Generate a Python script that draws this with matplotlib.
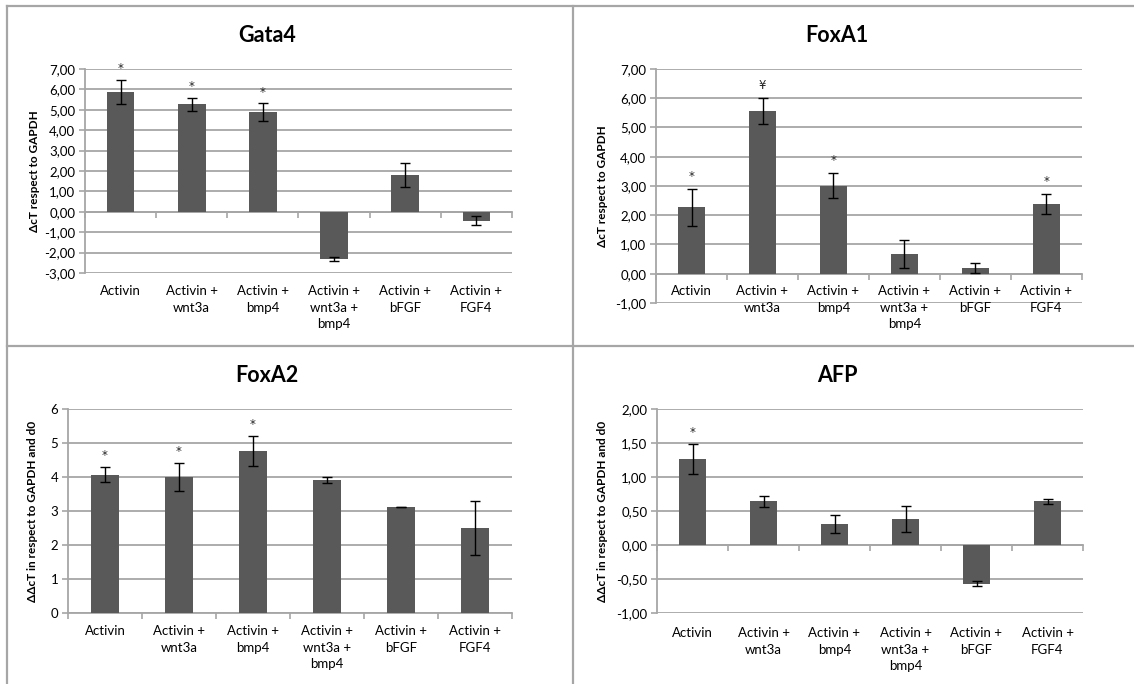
import matplotlib
matplotlib.use("Agg")
import matplotlib.pyplot as plt
import numpy as np
from matplotlib.lines import Line2D
from matplotlib.ticker import FuncFormatter, MultipleLocator
from matplotlib.transforms import blended_transform_factory

plt.rcParams['font.family'] = ['Lato', 'DejaVu Sans']

conditions = ['Activin', 'Activin +\nwnt3a', 'Activin +\nbmp4',
              'Activin +\nwnt3a +\nbmp4', 'Activin +\nbFGF', 'Activin +\nFGF4']

gata4_mean = [5.87, 5.26, 4.87, -2.31, 1.80, -0.43]
gata4_err = [0.60, 0.33, 0.44, 0.08, 0.58, 0.22]
gata4_marks = ['*', '*', '*', '', '', '']

foxa1_mean = [2.27, 5.56, 3.01, 0.69, 0.20, 2.38]
foxa1_err = [0.63, 0.45, 0.43, 0.48, 0.17, 0.33]
foxa1_marks = ['*', '¥', '*', '', '', '*']

foxa2_mean = [4.07, 4.01, 4.77, 3.91, 3.12, 2.50]
foxa2_err = [0.23, 0.41, 0.45, 0.09, 0.01, 0.78]
foxa2_marks = ['*', '*', '*', '', '', '']

afp_mean = [1.27, 0.64, 0.31, 0.38, -0.57, 0.64]
afp_err = [0.22, 0.08, 0.13, 0.19, 0.04, 0.03]
afp_marks = ['*', '', '', '', '', '']

W, H = 1134, 684
fig = plt.figure(figsize=(W / 100, H / 100), dpi=100)
fig.patch.set_facecolor('white')

GRID = '#a6a6a6'
BAR = '#595959'


def px_rect(l, t, r, b):
    return [l / W, 1 - b / H, (r - l) / W, (b - t) / H]


def comma2(v, pos):
    return f'{v:.2f}'.replace('.', ',')


def comma0(v, pos):
    return f'{v:.0f}'


def panel(rect, title, ylabel, means, errs, marks, ylim, step, fmt,
          title_xy, ylab_x, label_y):
    ax = fig.add_axes(px_rect(*rect))
    x = np.arange(len(means))
    ax.bar(x, means, width=0.39, color=BAR, zorder=3)
    ax.errorbar(x, means, yerr=errs, fmt='none', ecolor='black',
                elinewidth=1.0, capsize=3.5, capthick=1.0, zorder=4)

    # significance markers just above the error bar
    span = ylim[1] - ylim[0]
    for xi, m, e, mk in zip(x, means, errs, marks):
        if mk:
            top = max(m + e, 0)
            ax.text(xi, top + span * 0.055, mk, ha='center', va='center',
                    fontsize=8.5, color='#222222', family='DejaVu Sans',
                    zorder=5)

    ax.set_xlim(-0.5, len(means) - 0.5)
    ax.set_ylim(*ylim)
    ax.yaxis.set_major_locator(MultipleLocator(step))
    ax.yaxis.set_major_formatter(FuncFormatter(fmt))
    ax.grid(axis='y', color=GRID, linewidth=1.3, zorder=0)
    ax.set_axisbelow(True)

    for s in ['top', 'right']:
        ax.spines[s].set_visible(False)
    ax.spines['left'].set_color(GRID)
    ax.spines['left'].set_linewidth(1.3)
    ax.spines['bottom'].set_position(('data', 0))
    ax.spines['bottom'].set_color(GRID)
    ax.spines['bottom'].set_linewidth(1.3)
    ax.set_xticks(np.arange(-0.5, len(means), 1.0))
    ax.set_xticklabels([])
    ax.tick_params(axis='x', direction='out', length=4, color=GRID, width=1.2)
    ax.tick_params(axis='y', direction='out', length=4, color=GRID, width=1.2,
                   labelsize=9.5, pad=3)

    # category labels sit under the plot area, not on the zero line
    tr = blended_transform_factory(ax.transData, fig.transFigure)
    for xi, lab in zip(x, conditions):
        ax.text(xi, 1 - label_y / H, lab, transform=tr, ha='center', va='top',
                fontsize=9.5, linespacing=1.45)

    fig.text(title_xy[0] / W, 1 - title_xy[1] / H, title, ha='center',
             va='center', fontsize=15.5, fontweight='bold')
    fig.text(ylab_x / W, 1 - (rect[1] + rect[3]) / 2 / H, ylabel,
             ha='center', va='center', rotation=90, fontsize=8.5,
             fontweight='bold')
    return ax


panel((85, 69, 512, 273), 'Gata4', 'ΔcT respect to GAPDH',
      gata4_mean, gata4_err, gata4_marks, (-3, 7), 1, comma2,
      (267, 36), 35, 285)
panel((656, 69, 1082, 303), 'FoxA1', 'ΔcT respect to GAPDH',
      foxa1_mean, foxa1_err, foxa1_marks, (-1, 7), 1, comma2,
      (837, 36), 603, 285)
panel((68, 409, 512, 613), 'FoxA2', 'ΔΔcT in respect to GAPDH and d0',
      foxa2_mean, foxa2_err, foxa2_marks, (0, 6), 1, comma0,
      (267, 375), 33, 625)
panel((657, 409, 1083, 613), 'AFP', 'ΔΔcT in respect to GAPDH and d0',
      afp_mean, afp_err, afp_marks, (-1, 2), 0.5, comma2,
      (837, 375), 603, 627)

# frame lines around the four panels
frame = [((7, W), (6, 6)), ((7, 7), (6, H)), ((573, 573), (6, H)),
         ((7, W), (346, 346))]
for xs, ys in frame:
    fig.add_artist(Line2D([v / W for v in xs], [1 - v / H for v in ys],
                          color='#a6a6a6', linewidth=1.6))

fig.savefig('out.png', dpi=100)
